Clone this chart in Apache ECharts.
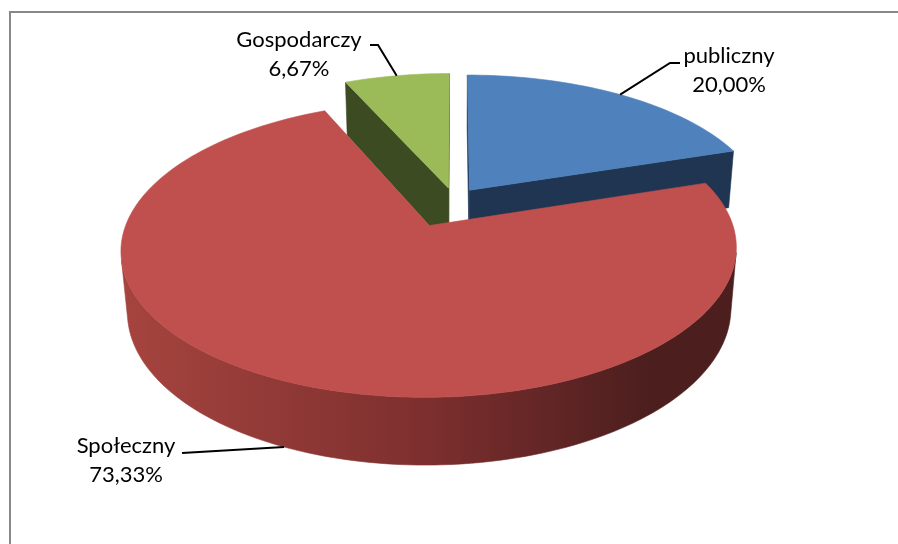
<!DOCTYPE html>
<html><head><meta charset="utf-8">
<script src="https://cdn.jsdelivr.net/npm/echarts@6/dist/echarts.min.js"></script>
<style>html,body{margin:0;padding:0;background:#fff}#c{width:898px;height:544px}</style>
</head><body><div id="c"></div>
<script>
// ---- data ----
const categories = ['publiczny', 'Społeczny', 'Gospodarczy'];
const values = [3, 11, 1];

// ---- style / layout (not data) ----
const topColors = ['#4F81BD', '#C0504D', '#9BBB59'];
const sideColors = [['#1F3552', '#1F3552'], ['#A6443F', '#4C1E1E'], ['#3D4B22', '#3D4B22']];
const explodeBy = [0.09, 0.2, 0.09];
const labelText = [[729, 70], [126, 460], [299, 54]];
const labelLine = [[[680, 63], [670, 63]], [[182, 453]], [[370, 45], [378, 45]]];
const labelOnBottom = [false, true, false];
const V = { cx: 454, cy: 200, k: 295, sinA: 0.461, cosA: 0.887, D: 5.675, H: 0.23 };

const total = values.reduce((a, b) => a + b, 0);
const startAng = [], endAng = [];
let acc = 0;
values.forEach(v => { startAng.push(acc / total * 360); acc += v; endAng.push(acc / total * 360); });
const rad = d => d * Math.PI / 180;
function proj(X, Z, Y) {
  const s = 1 / (1 - (Z * V.cosA + Y * V.sinA) / V.D);
  return [V.cx + V.k * X * s, V.cy + V.k * (Z * V.sinA - Y * V.cosA) * s];
}
function area(p) { let s = 0; for (let i = 0; i < p.length; i++) { const a = p[i], b = p[(i + 1) % p.length]; s += a[0] * b[1] - b[0] * a[1]; } return s; }
const midZ = values.map((v, i) => -Math.cos(rad((startAng[i] + endAng[i]) / 2)));
const order = values.map((v, i) => i).sort((a, b) => midZ[a] - midZ[b]);
const rank = []; order.forEach((idx, r) => rank[idx] = r);

function renderItem(params, api) {
  const i = params.dataIndex;
  const val = api.value(0);
  const a0 = startAng[i], a1 = endAng[i], mid = (a0 + a1) / 2;
  const m = explodeBy[i];
  const ox = m * Math.sin(rad(mid)), oz = -m * Math.cos(rad(mid));
  const n = Math.max(2, Math.ceil((a1 - a0) / 1.5));
  const top = [], bot = [];
  for (let j = 0; j <= n; j++) {
    const t = rad(a0 + (a1 - a0) * j / n);
    const X = ox + Math.sin(t), Z = oz - Math.cos(t);
    top.push(proj(X, Z, 0)); bot.push(proj(X, Z, -V.H));
  }
  const cTop = proj(ox, oz, 0), cBot = proj(ox, oz, -V.H);
  const base = rank[i] * 10;
  const children = [];
  // radial faces
  const fStart = [cTop, top[0], bot[0], cBot];
  const fEnd = [top[n], cTop, cBot, bot[n]];
  [fStart, fEnd].forEach(f => {
    if (area(f) < 0) children.push({ type: 'polygon', z2: base + 1, shape: { points: f }, style: { fill: sideColors[i][1], stroke: sideColors[i][1], lineWidth: 0.6 } });
  });
  // outer strip runs
  const runs = []; let cur = null;
  for (let j = 0; j < n; j++) {
    const vis = area([top[j], top[j + 1], bot[j + 1], bot[j]]) < 0;
    if (vis) { if (!cur) { cur = [j, j]; runs.push(cur); } else cur[1] = j; } else cur = null;
  }
  runs.forEach(r => {
    const pts = top.slice(r[0], r[1] + 2).concat(bot.slice(r[0], r[1] + 2).reverse());
    let minX = Infinity, maxX = -Infinity;
    pts.forEach(p => { minX = Math.min(minX, p[0]); maxX = Math.max(maxX, p[0]); });
    let fill = sideColors[i][0];
    if (sideColors[i][0] !== sideColors[i][1]) {
      fill = { type: 'linear', x: minX, y: 0, x2: maxX, y2: 0, global: true,
        colorStops: [{ offset: 0, color: sideColors[i][0] }, { offset: 0.5, color: '#7C2F2E' }, { offset: 0.86, color: sideColors[i][1] }, { offset: 1, color: sideColors[i][1] }] };
    }
    children.push({ type: 'polygon', z2: base + 2, shape: { points: pts }, style: { fill: fill, stroke: fill, lineWidth: 0.6 } });
  });
  // top face
  children.push({ type: 'polygon', z2: base + 5, shape: { points: [cTop].concat(top) }, style: { fill: topColors[i], stroke: topColors[i], lineWidth: 0.6 } });
  // label + leader
  const tm = rad(mid);
  const anchor = proj(ox + Math.sin(tm), oz - Math.cos(tm), labelOnBottom[i] ? -V.H : 0);
  children.push({ type: 'polyline', z2: 100, shape: { points: labelLine[i].concat([anchor]) }, style: { stroke: '#000', lineWidth: 2, fill: null } });
  const pct = (val / total * 100).toFixed(2).replace('.', ',') + '%';
  children.push({ type: 'text', z2: 101, style: { text: categories[i] + '\n' + pct, x: labelText[i][0], y: labelText[i][1],
    textAlign: 'center', textVerticalAlign: 'middle', align: 'center', verticalAlign: 'middle',
    font: '22px Lato', lineHeight: 29, fill: '#000' } });
  return { type: 'group', children: children };
}

const chart = echarts.init(document.getElementById('c'), null, { renderer: 'canvas' });
chart.setOption({
  animation: false,
  backgroundColor: '#fff',
  graphic: [{ type: 'rect', z: -10, shape: { x: 10, y: 12, width: 900, height: 560 }, style: { fill: '#fff', stroke: '#888', lineWidth: 2 } }],
  series: [{
    type: 'custom', coordinateSystem: 'none', renderItem: renderItem,
    data: values.map((v, i) => ({ name: categories[i], value: v }))
  }]
});
</script></body></html>
